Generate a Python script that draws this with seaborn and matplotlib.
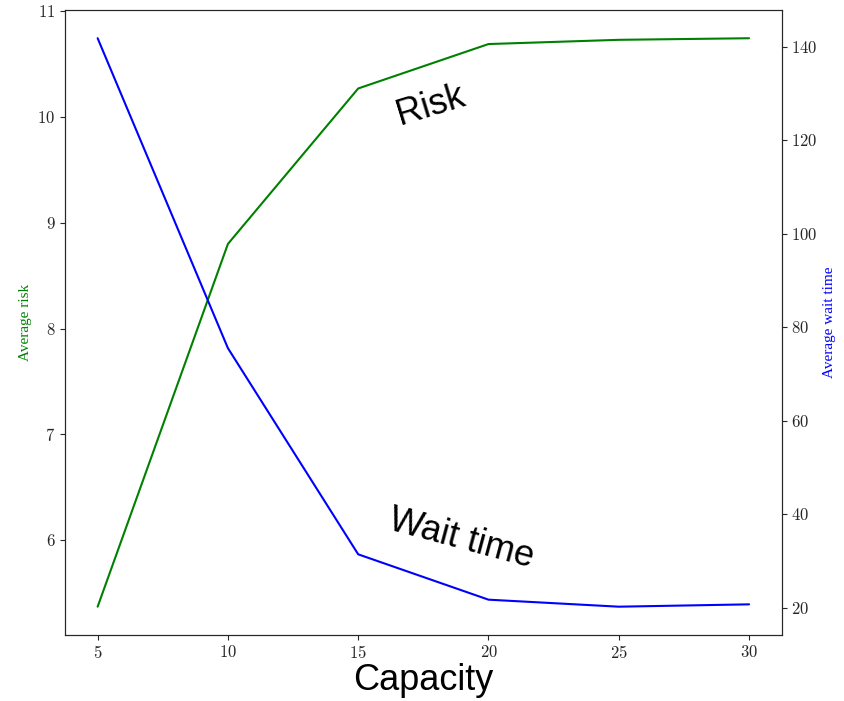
import pandas as pd
import seaborn as sns
import matplotlib.pyplot as plt
from matplotlib.ticker import FuncFormatter

# Dados do gráfico
capacity = [5, 10, 15, 20, 25, 30]
avg_risk = [5.37, 8.80, 10.27, 10.69, 10.73, 10.745]
avg_wait_time = [141.8, 75.5, 31.4, 21.7, 20.2, 20.7]

df = pd.DataFrame({'Capacity': capacity, 'Risk': avg_risk, 'Wait': avg_wait_time})

sns.set_style('ticks')
plt.rcParams['font.family'] = ['Liberation Serif', 'DejaVu Serif']
plt.rcParams['mathtext.fontset'] = 'cm'

fig = plt.figure(figsize=(8.45, 7.01), dpi=100)
ax = fig.add_axes([0.077, 0.094, 0.848, 0.892])
ax2 = ax.twinx()

sns.lineplot(x='Capacity', y='Risk', data=df, color='green', linewidth=1.5, ax=ax)
sns.lineplot(x='Capacity', y='Wait', data=df, color='blue', linewidth=1.5, ax=ax2)

# Labels
ax.set_xlabel('Capacity', fontsize=26, family='Liberation Sans', color='black', labelpad=1)
ax.set_ylabel('Average risk', color='green', fontsize=11)
ax2.set_ylabel('Average wait time', color='blue', fontsize=11)
ax2.set_yticks([20, 40, 60, 80, 100, 120, 140])

cm_fmt = FuncFormatter(lambda v, p: '$%g$' % v)
for a in (ax, ax2):
    a.tick_params(labelsize=12)
    a.yaxis.set_major_formatter(cm_fmt)
ax.xaxis.set_major_formatter(cm_fmt)

ax.text(17.8, 10.11, 'Risk', fontsize=26, rotation=17, ha='center', va='center',
        family='Liberation Sans', color='black')
ax.text(18.96, 6.01, 'Wait time', fontsize=26, rotation=-15, ha='center', va='center',
        family='Liberation Sans', color='black')

plt.savefig('out.png', dpi=100)
